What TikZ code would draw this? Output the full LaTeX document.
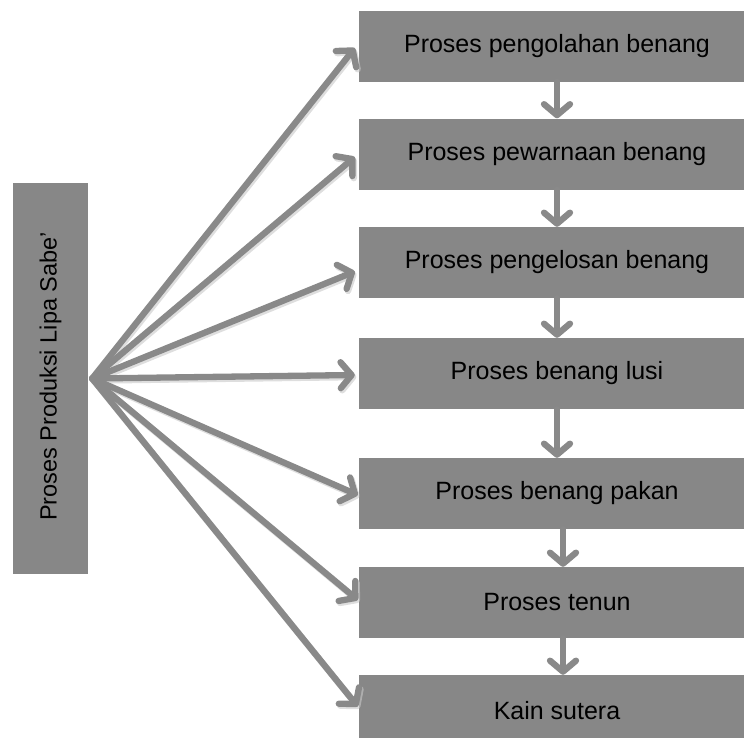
\documentclass[tikz,border=0pt]{standalone}
\usepackage{fontspec}
\setmainfont{Liberation Sans}
\usetikzlibrary{arrows.meta}
\definecolor{boxgray}{HTML}{878787}
\definecolor{arrowgray}{HTML}{898989}
\definecolor{shadegray}{HTML}{C8C8C8}
\begin{document}
\begin{tikzpicture}[x=1pt,y=-1pt,
  stepbox/.style={fill=boxgray, draw=none, minimum width=396pt, minimum height=71pt,
    inner sep=0pt, font=\fontsize{25}{28}\selectfont, text=black},
  flow/.style={draw=arrowgray, line width=6.3pt, line cap=round,
    -{Straight Barb[length=11pt,width=26pt,line cap=round,line join=round]}},
  flowshade/.style={draw=shadegray, line width=6.5pt, line cap=round, opacity=0.6,
    -{Straight Barb[length=11pt,width=26pt,line cap=round,line join=round]}}]
\useasboundingbox (0,0) rectangle (744,737);

% source box with rotated title
\node[fill=boxgray, minimum width=75pt, minimum height=391pt, inner sep=0pt]
  (src) at (50.5,378.5) {};
\node[rotate=90, font=\fontsize{23.5}{28}\selectfont, text=black] (srctxt) at ([yshift=2pt]src.center)
  {Proses Produksi Lipa Sabe’};

% process chain
\node[stepbox] (b1) at (557,46)    {Proses pengolahan benang};
\node[stepbox] (b2) at (557,154)   {Proses pewarnaan benang};
\node[stepbox] (b3) at (557,262.5) {Proses pengelosan benang};
\node[stepbox] (b4) at (557,373.5) {Proses benang lusi};
\node[stepbox] (b5) at (557,493.5) {Proses benang pakan};
\node[stepbox] (b6) at (557,602.5) {Proses tenun};
\node[stepbox] (b7) at (557,710.5) {Kain sutera};

% fan of arrows from the source
\coordinate (hub) at ([xshift=4pt]src.east);
\coordinate (t1) at ([xshift=-4pt,yshift=-2pt]b1.west);
\coordinate (t2) at ([xshift=-4pt,yshift=-3pt]b2.west);
\coordinate (t3) at ([xshift=-4pt,yshift=-9pt]b3.west);
\coordinate (t4) at ([xshift=-4pt,yshift=-1.5pt]b4.west);
\coordinate (t5) at ([xshift=-1pt,yshift=-1.5pt]b5.west);
\coordinate (t6) at ([xshift=-1pt,yshift=2.5pt]b6.west);
\coordinate (t7) at ([xshift=-1pt,yshift=4pt]b7.west);

\foreach \t in {t1,t2,t3,t4,t5,t6,t7}
  \draw[flowshade] ([xshift=1.5pt,yshift=-2pt]hub) -- ([xshift=1.5pt,yshift=-2pt]\t);
\foreach \t in {t1,t2,t3,t4,t5,t6,t7}
  \draw[flow] (hub) -- (\t);

% arrows down the chain
\draw[flow] (b1.south) -- (b2.north);
\draw[flow] (b2.south) -- (b3.north);
\draw[flow] (b3.south) -- (b4.north);
\draw[flow] (b4.south) -- (b5.north);
\draw[flow] ([xshift=6pt]b5.south) -- ([xshift=6pt]b6.north);
\draw[flow] ([xshift=6pt]b6.south) -- ([xshift=6pt]b7.north);
\end{tikzpicture}
\end{document}
